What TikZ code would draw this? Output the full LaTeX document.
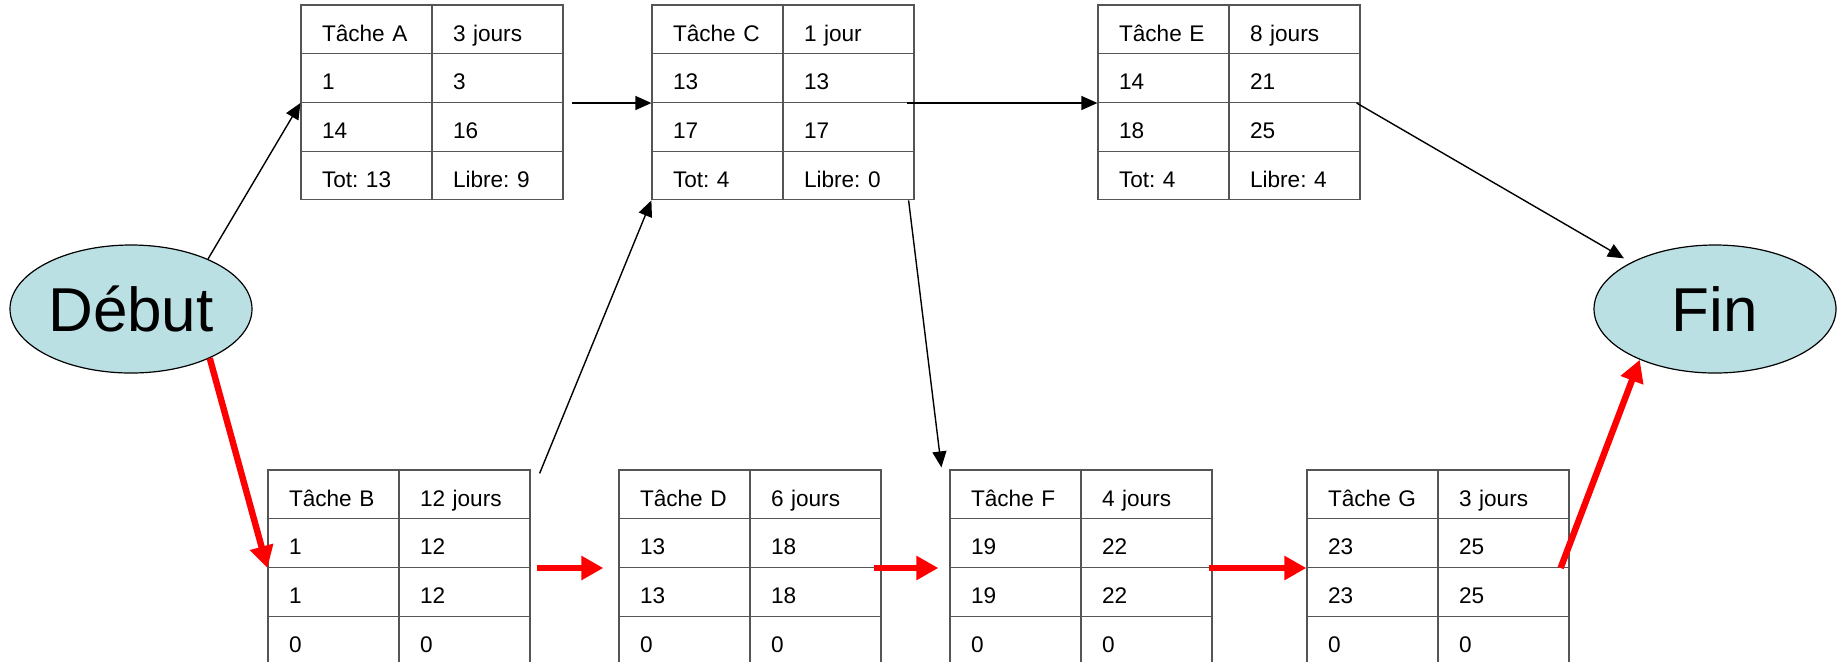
\documentclass[tikz,border=0pt]{standalone}
\usepackage{fontspec}
\setmainfont{Liberation Sans}
\frenchspacing
\usetikzlibrary{
  arrows.meta,
  matrix,
  shapes.geometric,
}
\definecolor{bleuclair}{RGB}{187, 224, 227}
\definecolor{gristrait}{RGB}{85, 85, 85}
\tikzstyle{cellule} = [
  rectangle,
  draw=gristrait,
  line width=0.6pt,
  anchor=center,
  minimum width=65.5pt,
  minimum height=24.35pt,
  text width=44.5pt,
  text height=11.8pt,
  text depth=0pt,
  inner xsep=10.5pt,
  inner ysep=6.275pt,
  align=left,
  font=\fontsize{11.3}{13.5}\selectfont,
]
\tikzstyle{tache} = [
  matrix of nodes,
  anchor=north west,
  inner sep=0pt,
  column sep=-0.6pt,
  row sep=-0.6pt,
  nodes={cellule},
]
\tikzstyle{etape} = [
  ellipse,
  draw,
  line width=0.6pt,
  fill=bleuclair,
  minimum width=121pt,
  minimum height=64pt,
  inner sep=0pt,
  font=\fontsize{31}{36}\selectfont,
]
\tikzstyle{fleche} = [
  -{Triangle[length=8pt,width=7pt]},
  line width=0.7pt,
]
\tikzstyle{critique} = [
  -{Triangle[length=11pt,width=11.5pt]},
  line width=3.2pt,
  red,
]

\begin{document}
\begin{tikzpicture}[x=0.5pt,y=-0.5pt]

      \path[use as bounding box,clip] (0,0) rectangle (1841,661);

      \node[etape] (Debut) at (131,309) {Début};
      \node[etape] (Fin)   at (1715,309) {Fin};

      \matrix (A) [tache] at (300,4) {
        Tâche A & 3 jours \\
        1       & 3 \\
        14      & 16 \\
        Tot: 13 & Libre: 9 \\
      };
      \matrix (C) [tache] at (651,4) {
        Tâche C & 1 jour \\
        13      & 13 \\
        17      & 17 \\
        Tot: 4  & Libre: 0 \\
      };
      \matrix (E) [tache] at (1097,4) {
        Tâche E & 8 jours \\
        14      & 21 \\
        18      & 25 \\
        Tot: 4  & Libre: 4 \\
      };
      \matrix (B) [tache] at (267,469) {
        Tâche B & 12 jours \\
        1       & 12 \\
        1       & 12 \\
        0       & 0 \\
      };
      \matrix (D) [tache] at (618,469) {
        Tâche D & 6 jours \\
        13      & 18 \\
        13      & 18 \\
        0       & 0 \\
      };
      \matrix (F) [tache] at (949,469) {
        Tâche F & 4 jours \\
        19      & 22 \\
        19      & 22 \\
        0       & 0 \\
      };
      \matrix (G) [tache] at (1306,469) {
        Tâche G & 3 jours \\
        23      & 25 \\
        23      & 25 \\
        0       & 0 \\
      };

      % liens non critiques
      \draw[fleche] (Debut.33) -- (A-2-1.south west);
      \draw[fleche,shorten <=4pt] (A-2-2.south east) -- (C-2-1.south west);
      \draw[fleche] ([xshift=-4pt]C-2-2.south east) -- (E-2-1.south west);
      \draw[fleche,shorten >=4pt] ([xshift=-2pt]E-2-2.south east) -- (Fin.151);
      \draw[fleche] ([xshift=4.5pt,yshift=-2pt]B-1-2.north east) -- (C-4-1.south west);
      \draw[fleche] ([xshift=-3pt]C-4-2.south east) -- ([xshift=-4pt,yshift=1pt]F-1-1.north west);

      % chemin critique
      \draw[critique] (Debut.-32) -- (B-2-1.south west);
      \draw[critique,shorten <=3pt,shorten >=7.5pt] (B-2-2.south east) -- (D-2-1.south west);
      \draw[critique,shorten <=-4pt,shorten >=5.5pt] (D-2-2.south east) -- (F-2-1.south west);
      \draw[critique,shorten <=-2pt] (F-2-2.south east) -- (G-2-1.south west);
      \draw[critique] ([xshift=-4.5pt]G-2-2.south east) -- (Fin.214);
    \end{tikzpicture}
\end{document}
